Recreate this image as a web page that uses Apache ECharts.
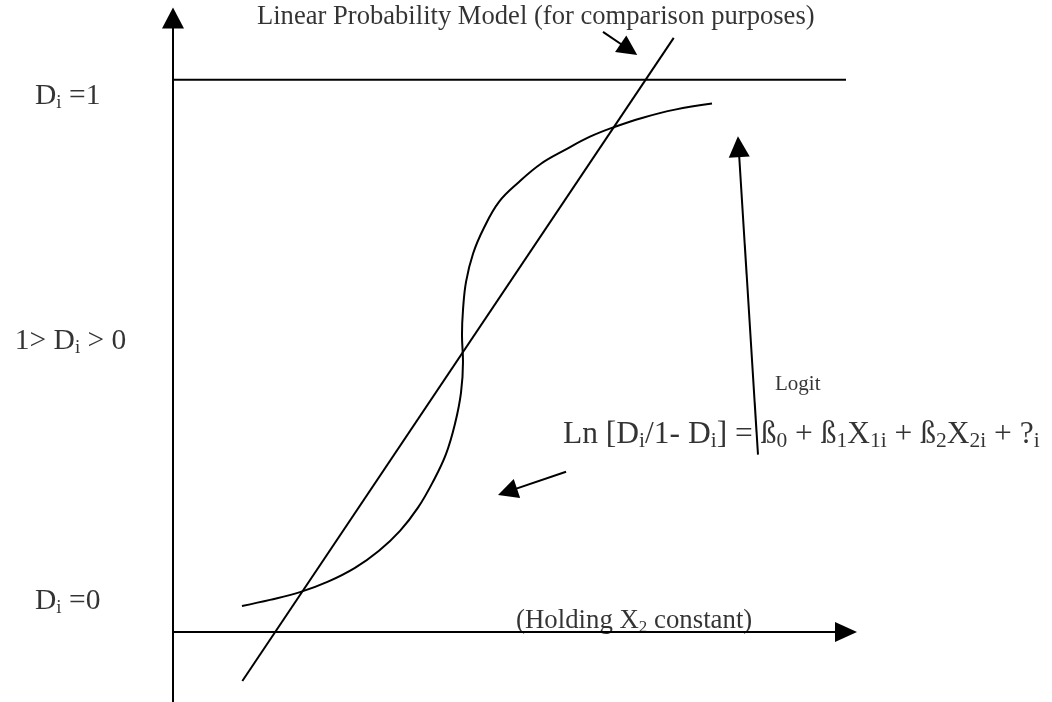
<!DOCTYPE html>
<html>
<head>
<meta charset="utf-8">
<script src="https://cdn.jsdelivr.net/npm/echarts@6/dist/echarts.min.js"></script>
<style>
  html, body { margin: 0; padding: 0; background: #fff; }
  #chart { width: 1052px; height: 702px; }
</style>
</head>
<body>
<div id="chart"></div>
<script>
// linear probability model (straight line)
var lpmX = [1.03, 7.44];
var lpmY = [-0.089, 1.076];

// logit S-curve
var logitX = [1.025, 1.441, 1.887, 2.303, 2.704, 3.061, 3.373, 3.640, 3.863, 4.056, 4.190, 4.279, 4.309,
              4.294, 4.309, 4.354, 4.458, 4.621, 4.844, 5.141, 5.468, 5.825, 6.196, 6.568, 6.969, 7.459, 8.009];
var logitY = [0.047, 0.058, 0.072, 0.091, 0.116, 0.147, 0.183, 0.225, 0.272, 0.322, 0.377, 0.433, 0.489,
              0.538, 0.583, 0.634, 0.685, 0.732, 0.779, 0.815, 0.848, 0.873, 0.897, 0.915, 0.931, 0.946, 0.957];

// D = 1 ceiling
var ceilX = [0, 10];
var ceilY = [1, 1];

// annotation arrows: tail -> head
var arrowTailX = [6.389, 8.692, 5.840];
var arrowTailY = [1.087, 0.321, 0.290];
var arrowHeadX = [6.775, 8.404, 4.970];
var arrowHeadY = [1.055, 0.879, 0.254];
var arrowSize = [20, 21, 20];

// text labels
var labelKeys = ['d1', 'dmid', 'd0', 'title', 'logit', 'formula', 'holding'];
var labelX = [-2.05, -2.35, -2.05, 1.248, 8.945, 5.795, 5.097];
var labelY = [0.971, 0.527, 0.056, 1.113, 0.449, 0.357, 0.020];

var labelText = {
    d1: '{m|D}{s|i}{m| =1}',
    dmid: '{m|1> D}{s|i}{m| > 0}',
    d0: '{m|D}{s|i}{m| =0}',
    title: '{t|Linear Probability Model (for comparison purposes)}',
    logit: '{l|Logit}',
    formula: '{f|Ln [D}{fs|i}{f|/1- D}{fs|i}{f|] = ß}{fs|0}{f| + ß}{fs|1}{f|X}{fs|1i}{f| + ß}{fs|2}{f|X}{fs|2i}{f| + ?}{fs|i}',
    holding: '{h|(Holding X}{hs|2}{h| constant)}'
};

var FONT = 'Liberation Serif';

function pairs(xs, ys) {
    var out = [];
    for (var i = 0; i < xs.length; i++) out.push([xs[i], ys[i]]);
    return out;
}

var arrowData = [];
for (var i = 0; i < arrowTailX.length; i++) {
    arrowData.push({
        coords: [[arrowTailX[i], arrowTailY[i]], [arrowHeadX[i], arrowHeadY[i]]],
        symbolSize: [0, arrowSize[i]]
    });
}

var labelData = [];
for (var j = 0; j < labelKeys.length; j++) {
    labelData.push({ name: labelKeys[j], value: [labelX[j], labelY[j]] });
}

var lineStyle = { color: '#000', width: 2, opacity: 1 };

var chart = echarts.init(document.getElementById('chart'));
chart.setOption({
    animation: false,
    backgroundColor: '#fff',
    grid: { left: 173, right: 206, top: 18, bottom: 0 },
    xAxis: {
        type: 'value', min: 0, max: 10,
        axisLine: { onZero: true, symbol: ['none', 'triangle'], symbolSize: [20, 22], lineStyle: { color: '#000', width: 2 } },
        axisTick: { show: false }, axisLabel: { show: false }, splitLine: { show: false }
    },
    yAxis: {
        type: 'value', min: -0.127, max: 1.112,
        axisLine: { onZero: false, symbol: ['none', 'triangle'], symbolSize: [22, 21], lineStyle: { color: '#000', width: 2 } },
        axisTick: { show: false }, axisLabel: { show: false }, splitLine: { show: false }
    },
    series: [
        { type: 'line', data: pairs(ceilX, ceilY), showSymbol: false, lineStyle: lineStyle, silent: true },
        { type: 'line', data: pairs(lpmX, lpmY), showSymbol: false, lineStyle: lineStyle, silent: true },
        { type: 'line', data: pairs(logitX, logitY), smooth: 0.4, showSymbol: false, lineStyle: lineStyle, silent: true, clip: false },
        {
            type: 'lines', coordinateSystem: 'cartesian2d', data: arrowData,
            symbol: ['none', 'triangle'],
            lineStyle: lineStyle, silent: true
        },
        {
            type: 'scatter', data: labelData, symbolSize: 0, clip: false, silent: true,
            label: {
                show: true, position: 'right', distance: 0, color: '#000',
                formatter: function (p) { return labelText[p.name]; },
                rich: {
                    m: { fontFamily: FONT, fontSize: 29.5, lineHeight: 34, color: '#000' },
                    s: { fontFamily: FONT, fontSize: 19, lineHeight: 19, verticalAlign: 'bottom', color: '#000' },
                    t: { fontFamily: FONT, fontSize: 26.6, lineHeight: 30, color: '#000' },
                    l: { fontFamily: FONT, fontSize: 21, lineHeight: 24, color: '#000' },
                    f: { fontFamily: FONT, fontSize: 31.5, lineHeight: 36, color: '#000' },
                    fs: { fontFamily: FONT, fontSize: 21.5, lineHeight: 21, verticalAlign: 'bottom', color: '#000' },
                    h: { fontFamily: FONT, fontSize: 26.8, lineHeight: 30, color: '#000' },
                    hs: { fontFamily: FONT, fontSize: 17, lineHeight: 17, verticalAlign: 'bottom', color: '#000' }
                }
            }
        }
    ]
});
</script>
</body>
</html>
